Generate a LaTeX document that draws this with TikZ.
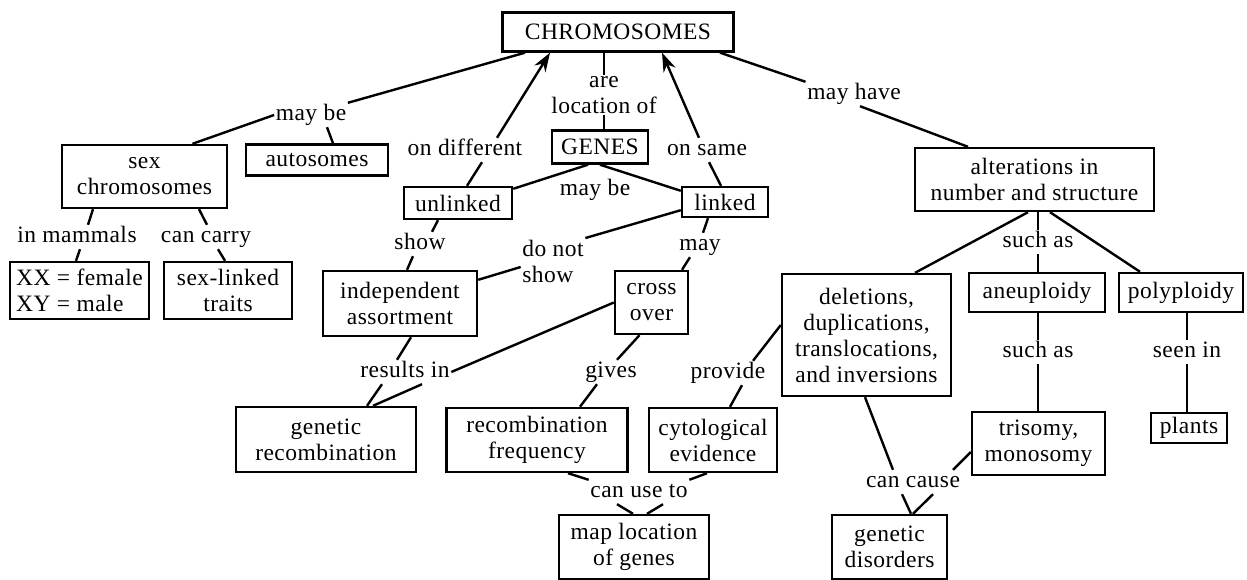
\documentclass[tikz,border=0pt]{standalone}
\usepackage{fontspec}
\setmainfont{Liberation Serif}[LetterSpace=2]
\usepackage{tikz}
\usetikzlibrary{arrows.meta}
\tikzstyle{concept} = [draw, line width=2.4pt, align=center, inner sep=0pt]
\tikzstyle{phrase} = [align=center, inner sep=1.5pt, text height=16pt, text depth=5pt]
\tikzstyle{link} = [draw, line width=2.4pt, >={Stealth[length=19pt,width=13pt]}]

\begin{document}
\begin{tikzpicture}[x=1pt, y=-1pt]
        \tikzset{every node/.style={font=\fontsize{23.5}{26}\selectfont}}
        \useasboundingbox (0,0) rectangle (1247,580);

        % concepts
        \node[concept, minimum width=231pt, minimum height=39pt] (chrom) at (618,32) {CHROMOSOMES};
        \node[concept, minimum width=96pt, minimum height=33pt] (genes) at (600,147) {GENES};
        \node[concept, minimum width=165pt, minimum height=63pt] (sexchr) at (144.5,176.5) {sex\\chromosomes};
        \node[concept, minimum width=142pt, minimum height=31pt] (autos) at (317,160) {autosomes};
        \node[concept, minimum width=139pt, minimum height=57pt, align=left] (xx) at (79.5,290.5) {XX = female\\XY = male};
        \node[concept, minimum width=128pt, minimum height=57pt] (sexlinked) at (228,290.5) {sex-linked\\traits};
        \node[concept, minimum width=108pt, minimum height=32pt] (unlinked) at (458,203) {unlinked};
        \node[concept, minimum width=86pt, minimum height=30pt] (linked) at (725,202) {linked};
        \node[concept, minimum width=154pt, minimum height=65pt] (indep) at (400,303.5) {independent\\assortment};
        \node[concept, minimum width=73pt, minimum height=63pt] (cross) at (651.5,302.5) {cross\\over};
        \node[concept, minimum width=180pt, minimum height=65pt] (genrec) at (326,439.5) {genetic\\recombination};
        \node[concept, minimum width=181pt, minimum height=64pt] (recfreq) at (537,440) {recombination\\frequency};
        \node[concept, minimum width=128pt, minimum height=64pt] (cytol) at (713,440) {cytological\\evidence};
        \node[concept, minimum width=150pt, minimum height=64pt] (maploc) at (634,547) {map location\\of genes};
        \node[concept, minimum width=239pt, minimum height=63pt] (alter) at (1034.5,179.5) {alterations in\\number and structure};
        \node[concept, minimum width=169pt, minimum height=122pt] (dels) at (866.5,335) {deletions,\\duplications,\\translocations,\\and inversions};
        \node[concept, minimum width=136pt, minimum height=39pt] (aneu) at (1037,292.5) {aneuploidy};
        \node[concept, minimum width=124pt, minimum height=39pt] (poly) at (1181,292.5) {polyploidy};
        \node[concept, minimum width=133pt, minimum height=63pt] (trisomy) at (1038.5,443.5) {trisomy,\\monosomy};
        \node[concept, minimum width=76pt, minimum height=30pt] (plants) at (1189,428) {plants};
        \node[concept, minimum width=115pt, minimum height=64pt] (gendis) at (889.5,547) {genetic\\disorders};

        % linking phrases
        \node[phrase] (lmaybe) at (311,115) {may be};
        \node[phrase, text height=, text depth=] (lareloc) at (604,95) {are\\location of};
        \node[phrase] (londiff) at (465,150) {on different};
        \node[phrase] (lonsame) at (707,150) {on same};
        \node[phrase] (lgenmaybe) at (595,190) {may be};
        \node[phrase] (lmayhave) at (854,94) {may have};
        \node[phrase] (linmammals) at (77,237) {in mammals};
        \node[phrase] (lcancarry) at (206,237) {can carry};
        \node[phrase] (lshow) at (420,244) {show};
        \node[phrase, align=left, text height=, text depth=] (ldonotshow) at (553,261) {do not\\show};
        \node[phrase] (lmay) at (700,245) {may};
        \node[phrase] (lresultsin) at (405,372) {results in};
        \node[phrase] (lgives) at (611,372) {gives};
        \node[phrase] (lprovide) at (728,373) {provide};
        \node[phrase] (lcanuseto) at (639,492) {can use to};
        \node[phrase] (lcancause) at (913,482) {can cause};
        \node[phrase] (lsuchas) at (1038,242) {such as};
        \node[phrase] (lsuchastwo) at (1038,352) {such as};
        \node[phrase] (lseenin) at (1187,352) {seen in};

        % left branch
        \path[link] ([xshift=-93pt]chrom.south) -- (lmaybe.north east);
        \path[link] (lmaybe.west) -- ([xshift=48pt]sexchr.north);
        \path[link] ([xshift=16pt]lmaybe.south) -- ([xshift=16pt]autos.north);
        \path[link] ([xshift=-51.5pt]sexchr.south) -- ([xshift=11pt]linmammals.north);
        \path[link] ([xshift=3pt]linmammals.south) -- ([xshift=-3.5pt]xx.north);
        \path[link] ([xshift=54.5pt]sexchr.south) -- ([xshift=1pt]lcancarry.north);
        \path[link] ([xshift=12pt]lcancarry.south) -- ([xshift=-3pt]sexlinked.north);

        % genes
        \path[link] ([xshift=-14pt]chrom.south) -- (lareloc.north);
        \path[link] (lareloc.south) -- ([xshift=4pt]genes.north);
        \path[link] ([xshift=-12pt]genes.south) -- ([yshift=-3pt]unlinked.north east);
        \path[link] (genes.south) -- ([yshift=-5pt]linked.north west);
        \path[link, ->] ([xshift=32pt]londiff.north) -- ([xshift=-68pt]chrom.south);
        \path[link] ([xshift=9pt]unlinked.north) -- ([xshift=17pt]londiff.south);
        \path[link, ->] ([xshift=-8pt]lonsame.north) -- ([xshift=44pt]chrom.south);
        \path[link] ([xshift=-4pt]linked.north) -- ([xshift=2pt]lonsame.south);
        \path[link] ([xshift=-20pt]unlinked.south) -- ([xshift=12pt]lshow.north);
        \path[link] ([xshift=-7pt]lshow.south) -- ([xshift=7pt]indep.north);
        \path[link] ([yshift=8pt]linked.south west) -- (ldonotshow.north east);
        \path[link] ([yshift=-6pt]ldonotshow.west) -- ([yshift=-10pt]indep.north east);
        \path[link] ([xshift=-17pt]linked.south) -- ([xshift=3pt]lmay.north);
        \path[link] ([xshift=-10pt]lmay.south) -- ([xshift=30.5pt]cross.north);
        \path[link] ([xshift=11pt]indep.south) -- ([xshift=-8pt]lresultsin.north);
        \path[link] (cross.west) -- (lresultsin.east);
        \path[link] ([xshift=-23pt]lresultsin.south) -- ([xshift=41pt]genrec.north);
        \path[link] ([xshift=17pt]lresultsin.south) -- ([xshift=47pt]genrec.north);
        \path[link] ([xshift=-12pt]cross.south) -- ([xshift=6pt]lgives.north);
        \path[link] ([xshift=-14pt]lgives.south) -- ([xshift=43pt]recfreq.north);
        \path[link] ([xshift=31pt]recfreq.south) -- (lcanuseto.north west);
        \path[link] ([xshift=-6pt]cytol.south) -- (lcanuseto.north east);
        \path[link] ([xshift=-22pt]lcanuseto.south) -- ([xshift=-1pt]maploc.north);
        \path[link] ([xshift=24pt]lcanuseto.south) -- ([xshift=13pt]maploc.north);

        % right branch
        \path[link] ([xshift=102pt]chrom.south) -- (lmayhave.north west);
        \path[link] ([xshift=6pt]lmayhave.south) -- ([xshift=-66.5pt]alter.north);
        \path[link] ([xshift=3.5pt]alter.south) -- (lsuchas.north);
        \path[link] (lsuchas.south) -- ([xshift=1pt]aneu.north);
        \path[link] ([xshift=-6.5pt]alter.south) -- ([xshift=48.5pt]dels.north);
        \path[link] ([xshift=15.5pt]alter.south) -- ([xshift=-41pt]poly.north);
        \path[link] ([xshift=1pt]aneu.south) -- (lsuchastwo.north);
        \path[link] (lsuchastwo.south) -- ([xshift=-0.5pt]trisomy.north);
        \path[link] ([xshift=6pt]poly.south) -- (lseenin.north);
        \path[link] (lseenin.south) -- ([xshift=-2pt]plants.north);
        \path[link] ([yshift=10pt]dels.west) -- ([xshift=25pt]lprovide.north);
        \path[link] ([xshift=14pt]lprovide.south) -- ([xshift=17pt]cytol.north);
        \path[link] ([xshift=-1.5pt]dels.south) -- ([xshift=-20pt]lcancause.north);
        \path[link] ([yshift=-8.5pt]trisomy.west) -- ([xshift=40pt]lcancause.north);
        \path[link] ([xshift=-11pt]lcancause.south) -- ([xshift=21.5pt]gendis.north);
        \path[link] ([xshift=20pt]lcancause.south) -- ([xshift=23.5pt]gendis.north);
\end{tikzpicture}
\end{document}
